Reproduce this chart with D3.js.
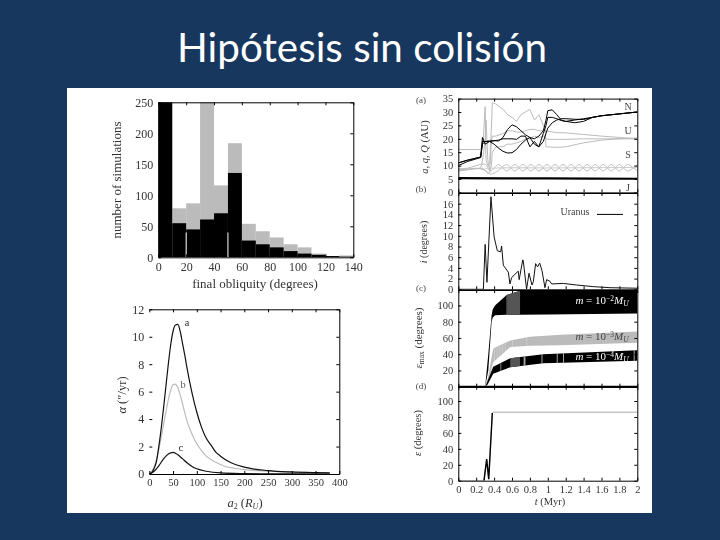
<!DOCTYPE html>
<html>
<head>
<meta charset="utf-8">
<title>Hipótesis sin colisión</title>
<script src="https://cdn.jsdelivr.net/npm/d3@7"></script>
<style>
    body { margin: 0; background: #17375e; }
    text { font-family: "Liberation Serif", serif; fill: #333; }
    .tick text { fill: #333; }
    .title { font-family: Lato, sans-serif; font-size: 40.4px; fill: #fff; }
    .soft { filter: blur(0.35px); }
</style>
</head>
<body>
<svg id="chart" width="720" height="540"></svg>
<script>
// Histogram of final obliquity
const histEdges = [0, 10, 20, 30, 40, 50, 60, 70, 80, 90, 100, 110, 120, 130];
const histGrey = [250, 79, 87, 250, 116, 184, 54, 42, 32, 21, 16, 6, 2, 3];
const histBlack = [250, 55, 45, 61, 71, 136, 27, 21, 16, 10, 6, 4, 2, 1];
const histGaps = [20, 50];

// Precession curves
const curveAx = [0, 5, 10, 15, 20, 25, 30, 35, 40, 45, 50, 55, 60, 65, 70, 75, 80, 90, 100, 110, 120, 130, 140, 150, 170, 200, 250, 300, 350, 380];
const curveA = [0, 0.1, 0.4, 0.9, 2, 3.3, 4.8, 6.4, 8, 9.4, 10.4, 10.85, 10.9, 10.4, 9.5, 8.6, 7.6, 5.9, 4.5, 3.4, 2.6, 2.1, 1.6, 1.3, 0.85, 0.5, 0.25, 0.15, 0.1, 0.08];
const curveBx = [0, 10, 20, 30, 40, 45, 50, 55, 60, 70, 80, 90, 100, 110, 120, 140, 160, 180, 200, 250, 300, 380];
const curveB = [0, 0.5, 1.8, 3.6, 5.4, 6.1, 6.5, 6.55, 6.3, 5.1, 3.8, 2.9, 2.2, 1.7, 1.3, 0.85, 0.55, 0.42, 0.32, 0.2, 0.12, 0.07];
const curveCx = [0, 10, 20, 30, 40, 50, 60, 70, 80, 90, 100, 120, 150, 200, 250, 380];
const curveC = [0, 0.2, 0.6, 1.1, 1.45, 1.57, 1.4, 1.1, 0.8, 0.55, 0.38, 0.2, 0.08, 0.03, 0.01, 0];

// Panel a: semi major axes
const timeBlack = [0, 0.1, 0.2, 0.25, 0.27, 0.3, 0.35, 0.4, 0.45, 0.5, 0.55, 0.6, 0.65, 0.7, 0.75, 0.8, 0.85, 0.9, 0.95, 0.98, 1, 1.05, 1.1, 1.15, 1.2, 1.3, 1.4, 1.5, 1.6, 1.8, 2];
const black1 = [11, 12, 12.8, 13.2, 20.5, 18, 19, 19.3, 19.2, 20.5, 23.5, 25.2, 24.5, 23, 21.5, 20.5, 20, 21, 23, 27, 30.5, 30.8, 29, 27, 26.5, 26, 26.5, 28, 28.6, 29.3, 30];
const black2 = [11, 12, 12.8, 13.2, 18, 19, 19, 18, 16.5, 15.3, 14.7, 14.8, 16, 18, 19.5, 20.5, 18, 17, 19, 22, 24, 26, 27, 27.5, 27.5, 27.3, 27.2, 28, 28.6, 29.3, 30];
const black3 = [10, 11.5, 12.5, 13, 19, 19, 19.2, 19.3, 19.5, 20, 20, 20, 19.8, 21, 21, 17, 19, 17, 22, 25, 28, 28, 27.5, 26.8, 26.5, 27, 27.5, 28, 28.6, 29.3, 30];
const timeGrey = [0, 0.24, 0.26, 0.28, 0.3, 0.31, 0.33, 0.35, 0.37, 0.38, 0.42, 0.5, 0.55, 0.6, 0.65, 0.7, 0.75, 0.8, 0.85, 0.9, 0.95, 0.97, 0.98, 1, 1.1, 1.2, 1.4, 1.6, 1.8, 2];
const grey1 = [16, 16, 16.5, 20, 32, 12, 10, 11, 24, 33.5, 33, 31, 29, 28, 26.5, 29, 30, 31, 27, 29, 25, 24, 17, 17, 16.8, 17, 18.5, 19.5, 20, 20.3];
const grey2 = [8, 9, 10, 14, 20, 27, 12, 8, 19, 21, 21, 22, 23, 23, 22.5, 22.5, 23, 23.5, 23.5, 23, 23, 23, 22.8, 22.8, 22.3, 22.2, 21.6, 21, 20.5, 20];
const grey3 = [8.5, 9, 9, 9, 8, 8, 7, 7.5, 10, 15, 17, 17, 18, 18, 18.5, 19, 20, 20, 21, 20.5, 21, 21, 20, 19.8, 19.8, 19.8, 20, 20, 20, 20];
const timeSaturn = [0, 0.1, 0.2, 0.3, 0.36, 0.45, 0.54, 0.63, 0.72, 0.81, 0.9, 0.99, 1.08, 1.17, 1.26, 1.35, 1.44, 1.53, 1.62, 1.71, 1.8, 1.89, 2];
const saturn1 = [8, 8.5, 9, 8.2, 6.8, 8.2, 10.4, 8, 10.4, 8, 10.4, 8, 10.4, 8, 10.4, 8, 10.4, 8, 10.4, 8, 10.4, 8, 10.4];
const saturn2 = [9, 9, 10, 10.5, 8, 10.4, 8, 10.4, 8, 10.4, 8, 10.4, 8, 10.4, 8, 10.4, 8, 10.4, 8, 10.4, 8, 10.4, 8];
const timeSaturnMid = [0.3, 0.6, 1, 1.4, 2];
const saturnMid = [9, 9.2, 9.1, 9.2, 9.3];
const timeJupiter = [0, 0.5, 1, 1.5, 2];
const jupiter = [5.3, 5.25, 5.2, 5.15, 5.1];

// Panel b: inclination of Uranus
const timeIncl = [0, 0.28, 0.3, 0.32, 0.365, 0.4, 0.436, 0.473, 0.484, 0.503, 0.559, 0.577, 0.596, 0.67, 0.68, 0.72, 0.726, 0.763, 0.79, 0.823, 0.838, 0.864, 0.886, 0.909, 0.935, 0.968, 0.987, 1.024, 1.043, 1.173, 1.322, 1.508, 1.695, 2];
const inclination = [0, 0, 8.4, 1.3, 17.3, 9.8, 7.2, 7, 8.1, 4.5, 3.2, 1, 2.2, 3.4, 1.8, 5.5, 5.3, 0, 3, 0.8, 1.4, 4.8, 4.2, 4.9, 3.5, 0.3, 1.8, 1.5, 1, 1.1, 0.8, 0.5, 0.3, 0.2];

// Panel c: obliquity bands for three masses
const timeHigh = [0.3, 0.335, 0.372, 0.384, 0.41, 0.54, 0.69, 1, 1.5, 2];
const highTop = [0, 40, 88, 95, 100, 113, 118, 119, 119, 119];
const highLow = [0, 20, 80, 85, 88, 88.5, 88.5, 89, 89.5, 90];
const timeMid = [0.3, 0.33, 0.39, 0.58, 0.8, 1.14, 2];
const midTop = [0, 10, 47, 57, 61.5, 64, 68];
const midLow = [0, 5, 30, 49, 50.5, 51, 54];
const timeLow = [0.3, 0.33, 0.39, 0.58, 0.95, 2];
const lowTop = [0, 8, 24.6, 35, 40, 45];
const lowLow = [0, 3, 16, 24, 29, 32];
const highStripes = [[0.54, 0.55, "#999"], [0.55, 0.69, "#555"]];
const midStripes = [[0.4, 0.41], [0.43, 0.44], [0.46, 0.47], [0.49, 0.5], [0.52, 0.53], [0.6, 0.61], [0.76, 0.77]];
const lowStripes = [[0.47, 0.48, "#888"], [0.58, 0.69, "#555"], [0.73, 0.75, "#aaa"], [0.93, 0.94, "#bbb"], [1.1, 1.11, "#bbb"], [1.17, 1.18, "#bbb"], [1.96, 1.97, "#bbb"]];

// Panel d: final obliquity
const timeObl = [0, 0.287, 0.317, 0.34, 0.38, 0.39, 2];
const obliquity = [0, 0, 27, 2, 85, 86, 86];
const timeOblBold = [0.287, 0.317, 0.34, 0.38];
const obliquityBold = [0, 27, 2, 85];

const timeTicks = d3.range(0, 2.01, 0.2);
const fmt = d3.format("~g");

const root = d3.select("#chart");

root.append("text").attr("class", "title").attr("x", 362).attr("y", 62)
    .attr("text-anchor", "middle").text("Hipótesis sin colisión");

root.append("rect").attr("x", 67).attr("y", 88).attr("width", 585).attr("height", 425).attr("fill", "#fff");

// everything on the white sheet is slightly soft, like the scanned original
const svg = root.append("g").attr("class", "soft");

let clipCount = 0;

// Frame with inward ticks on all four sides, returns a group for the marks
function makeFrame(x, y, xTicks, yTicks, opts) {
    opts = opts || {};
    let x0 = x.range()[0], x1 = x.range()[1], y0 = y.range()[0], y1 = y.range()[1];
    let fontSize = opts.fontSize || 12;

    let marks = svg.append("g");

    let axes = [
        [d3.axisBottom(x).tickValues(xTicks), "translate(0," + y0 + ")", opts.hideX ? "" : fmt, opts.xFontSize || fontSize],
        [d3.axisTop(x).tickValues(xTicks), "translate(0," + y1 + ")", "", fontSize],
        [d3.axisLeft(y).tickValues(yTicks), "translate(" + x0 + ",0)", fmt, fontSize],
        [d3.axisRight(y).tickValues(yTicks), "translate(" + x1 + ",0)", "", fontSize]
    ];
    axes.forEach(function(a, i) {
        let g = svg.append("g")
            .attr("transform", a[1])
            .call(a[0].tickSize(-3).tickSizeOuter(0).tickPadding(5).tickFormat(a[2]));
        g.selectAll("text").style("font-size", a[3] + "px").style("font-family", "Liberation Serif");
        g.select(".domain").attr("stroke", "#000");
        if (i === 2 && opts.hideLeft) g.select(".domain").remove();
    });

    let id = "clip" + (clipCount++);
    root.append("clipPath").attr("id", id).append("rect")
        .attr("x", x0).attr("y", y1).attr("width", x1 - x0).attr("height", y0 - y1);
    marks.attr("clip-path", "url(#" + id + ")");
    return marks;
}

function zip(xs, ys) {
    return xs.map((v, i) => [v, ys[i]]);
}

function addLine(g, x, y, xs, ys, color, width, curve) {
    let line = d3.line().x(d => x(d[0])).y(d => y(d[1])).curve(curve || d3.curveLinear);
    g.append("path").attr("d", line(zip(xs, ys)))
        .attr("fill", "none").attr("stroke", color).attr("stroke-width", width);
}

function addLabel(x, y, html, size, rotate, color, anchor) {
    let t = svg.append("text")
        .attr("text-anchor", anchor || "middle")
        .style("font-size", size + "px")
        .html(html);
    if (color) t.style("fill", color);
    if (rotate) t.attr("transform", "translate(" + x + "," + y + ") rotate(-90)");
    else t.attr("x", x).attr("y", y);
}

// ---- histogram ----
let xHist = d3.scaleLinear().domain([0, 140]).range([158.3, 353.3]);
let yHist = d3.scaleLinear().domain([0, 250]).range([257.3, 102.3]);
let gHist = makeFrame(xHist, yHist, d3.range(0, 141, 20), d3.range(0, 251, 50));

[[histGrey, "#bbb"], [histBlack, "#000"]].forEach(function(s) {
    gHist.selectAll(null).data(histEdges).enter().append("rect")
        .attr("x", d => xHist(d))
        .attr("width", d => xHist(d + 10) - xHist(d))
        .attr("y", (d, i) => yHist(s[0][i]))
        .attr("height", (d, i) => yHist(0) - yHist(s[0][i]))
        .attr("fill", s[1]);
});
gHist.selectAll(null).data(histGaps).enter().append("line")
    .attr("x1", d => xHist(d)).attr("x2", d => xHist(d))
    .attr("y1", yHist(0)).attr("y2", yHist(40))
    .attr("stroke", "#fff");

addLabel(121, 180, "number of simulations", 13, true);
addLabel(255, 288, "final obliquity (degrees)", 13);

// ---- precession curves ----
let xCurve = d3.scaleLinear().domain([0, 400]).range([149.3, 339.3]);
let yCurve = d3.scaleLinear().domain([0, 12]).range([474, 309.3]);
let gCurve = makeFrame(xCurve, yCurve, d3.range(0, 401, 50), d3.range(0, 13, 2), { hideLeft: true, xFontSize: 10.5 });

addLine(gCurve, xCurve, yCurve, curveBx, curveB, "#bbb", 1.2, d3.curveMonotoneX);
addLine(gCurve, xCurve, yCurve, curveAx, curveA, "#111", 1.2, d3.curveMonotoneX);
addLine(gCurve, xCurve, yCurve, curveCx, curveC, "#111", 1.2, d3.curveMonotoneX);

addLabel(187, 326, "a", 11, false, "#333");
addLabel(183, 388, "b", 11, false, "#666");
addLabel(181, 451, "c", 11, false, "#333");
addLabel(126, 395, "<tspan font-style='italic'>α</tspan> (<tspan>″</tspan>/yr)", 12.5, true);
addLabel(245, 507, "<tspan font-style='italic'>a</tspan><tspan font-size='8' dy='2'>2</tspan><tspan dy='-2'> (</tspan><tspan font-style='italic'>R</tspan><tspan font-size='8' font-style='italic' dy='2'>U</tspan><tspan dy='-2'>)</tspan>", 12.5);

// ---- right column ----
let xTime = d3.scaleLinear().domain([0, 2]).range([458.3, 637.3]);

// panel a
let yA = d3.scaleLinear().domain([0, 35]).range([192.4, 98.6]);
let gA = makeFrame(xTime, yA, timeTicks, d3.range(0, 36, 5), { hideX: true, fontSize: 10.5 });
addLine(gA, xTime, yA, timeGrey, grey1, "#bbb", 1);
addLine(gA, xTime, yA, timeGrey, grey2, "#bbb", 1);
addLine(gA, xTime, yA, timeGrey, grey3, "#bbb", 1);
addLine(gA, xTime, yA, timeSaturn, saturn1, "#bbb", 1, d3.curveCatmullRom);
addLine(gA, xTime, yA, timeSaturn, saturn2, "#bbb", 1, d3.curveCatmullRom);
addLine(gA, xTime, yA, timeSaturnMid, saturnMid, "#ccc", 1);
addLine(gA, xTime, yA, timeBlack, black1, "#000", 1);
addLine(gA, xTime, yA, timeBlack, black2, "#000", 1);
addLine(gA, xTime, yA, timeBlack, black3, "#000", 1);
addLine(gA, xTime, yA, timeJupiter, jupiter, "#000", 2.2);

addLabel(628, 110, "N", 10, false, "#444");
addLabel(628, 134, "U", 10, false, "#444");
addLabel(628, 158, "S", 10, false, "#444");
addLabel(628, 191, "J", 10, false, "#444");
addLabel(421, 103, "(a)", 9, false, "#444");
addLabel(428, 147, "<tspan font-style='italic'>a, q, Q</tspan> (AU)", 10.5, true);

// panel b
let yB = d3.scaleLinear().domain([0, 18]).range([289.3, 193]);
let gB = makeFrame(xTime, yB, timeTicks, d3.range(0, 17, 2), { hideX: true, fontSize: 10.5 });
addLine(gB, xTime, yB, timeIncl, inclination, "#111", 1);

addLabel(575, 215, "Uranus", 10, false, "#444");
svg.append("line").attr("x1", xTime(1.55)).attr("x2", xTime(1.84)).attr("y1", yB(14)).attr("y2", yB(14)).attr("stroke", "#000");
addLabel(421, 192, "(b)", 9, false, "#444");
addLabel(427, 242, "<tspan font-style='italic'>i</tspan> (degrees)", 10, true);

// panel c
let yC = d3.scaleLinear().domain([0, 119]).range([386.7, 290]);
let gC = makeFrame(xTime, yC, timeTicks, d3.range(0, 101, 20), { hideX: true, fontSize: 10.5 });

function addBand(ts, top, low, color, stripes, stripeColor) {
    let area = d3.area().x(d => xTime(d[0])).y0(d => yC(d[2])).y1(d => yC(d[1]));
    let d = area(ts.map((t, i) => [t, top[i], low[i]]));
    gC.append("path").attr("d", d).attr("fill", color);
    let id = "band" + (clipCount++);
    root.append("clipPath").attr("id", id).append("path").attr("d", d);
    gC.append("g").attr("clip-path", "url(#" + id + ")")
        .selectAll("rect").data(stripes).enter().append("rect")
        .attr("x", s => xTime(s[0]))
        .attr("width", s => xTime(s[1]) - xTime(s[0]))
        .attr("y", yC.range()[1])
        .attr("height", yC.range()[0] - yC.range()[1])
        .attr("fill", s => s[2] || stripeColor);
}
addBand(timeHigh, highTop, highLow, "#000", highStripes, "#555");
addBand(timeMid, midTop, midLow, "#bbb", midStripes, "#cfcfcf");
addBand(timeLow, lowTop, lowLow, "#000", lowStripes, "#555");
svg.append("line").attr("x1", xTime(0)).attr("x2", xTime(2)).attr("y1", yC(0)).attr("y2", yC(0))
    .attr("stroke", "#000").attr("stroke-width", 2);

function massLabel(y, exp, color) {
    addLabel(602, y, "<tspan font-style='italic'>m</tspan> = 10<tspan font-size='7.5' dy='-3'>−" + exp + "</tspan><tspan font-style='italic' dy='3'>M</tspan><tspan font-size='7.5' font-style='italic' dy='2'>U</tspan>", 11, false, color);
}
massLabel(304, 2, "#fff");
massLabel(340, 3, "#444");
massLabel(360, 4, "#fff");

addLabel(421, 291, "(c)", 9, false, "#444");
addLabel(422, 338, "<tspan font-style='italic'>ε</tspan><tspan font-size='7.5' dy='2'>max</tspan><tspan dy='-2'> (degrees)</tspan>", 11, true);

// panel d
let yD = d3.scaleLinear().domain([0, 118]).range([480.7, 386.7]);
let gD = makeFrame(xTime, yD, timeTicks, d3.range(0, 101, 20), { fontSize: 10.5 });
addLine(gD, xTime, yD, timeObl, obliquity, "#aaa", 1);
addLine(gD, xTime, yD, timeOblBold, obliquityBold, "#000", 1.4);

addLabel(421, 389, "(d)", 9, false, "#444");
addLabel(421, 433, "<tspan font-style='italic'>ε</tspan> (degrees)", 10.5, true);
addLabel(550, 505, "<tspan font-style='italic'>t</tspan> (Myr)", 10.5);
</script>
</body>
</html>
